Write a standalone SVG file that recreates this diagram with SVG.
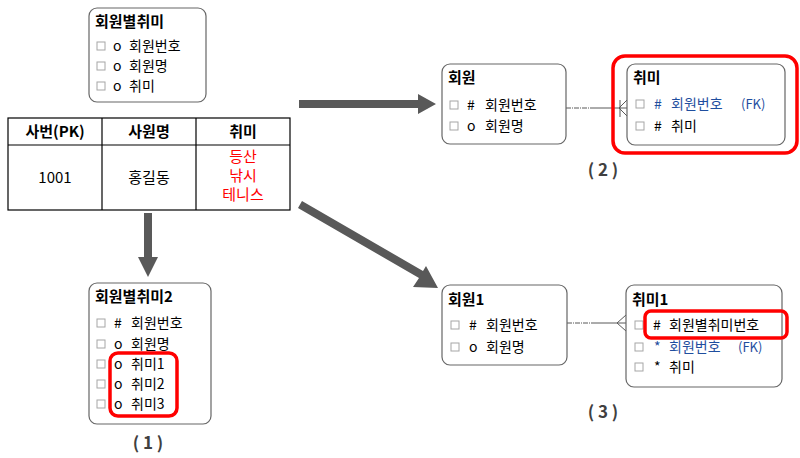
<svg xmlns="http://www.w3.org/2000/svg" width="800" height="458" viewBox="0 0 800 458">
<style>
text{font-family:"Noto Sans CJK KR","Noto Sans",sans-serif;font-size:14px;fill:#000}
.t{font-weight:bold;font-size:15px}
.d{font-size:15px}
.b{fill:#1f4e9e}
.r{fill:#ff0000}
.box{fill:#fff;stroke:#666;stroke-width:1.2}
.cb{fill:#fff;stroke:#a6a6a6;stroke-width:1}
.hl{fill:none;stroke:#ff0000;stroke-width:3.5}
.tb{fill:none;stroke:#000;stroke-width:1.2}
.lbl{font-weight:bold;font-size:17px;fill:#404040}
.arr{fill:#595959}
.ln{stroke:#595959;stroke-width:1;fill:none}
.dd{stroke-dasharray:5,1,1,1}
</style>
<defs>
<rect id="cb" class="cb" x="0" y="-4" width="8" height="8"/>
</defs>

<g id="connectors">
<polygon class="arr" points="144,213 152,213 152,257 158,257 148,277 138,257 144,257"/>
<polygon class="arr" points="299,100 418,100 418,94 436,104 418,114 418,108 299,108"/>
<polygon class="arr" points="302,201 423,271 426,266 438,288 413,287 419,278 298,208"/>
<path class="ln dd" d="M566,108 H594"/>
<path class="ln" d="M594,108 H627 M620,100 V117 M619,108 L627,100 M619,108 L627,116"/>
<path class="ln dd" d="M567,323 H594"/>
<path class="ln" d="M594,323 H626 M617,323 L626,315 M617,323 L626,331"/>
</g>

<g id="table">
<rect class="tb" x="8" y="118" width="282" height="92"/>
<line class="tb" x1="8" y1="145" x2="290" y2="145"/>
<line class="tb" x1="102" y1="118" x2="102" y2="210"/>
<line class="tb" x1="196" y1="118" x2="196" y2="210"/>
<text x="55" y="137" text-anchor="middle" class="t">사번(PK)</text>
<text x="149" y="137" text-anchor="middle" class="t">사원명</text>
<text x="243" y="137" text-anchor="middle" class="t">취미</text>
<text x="55" y="183" text-anchor="middle" class="d">1001</text>
<text x="149" y="183" text-anchor="middle" class="d">홍길동</text>
<text x="243" y="162" text-anchor="middle" class="d r">등산</text>
<text x="243" y="181" text-anchor="middle" class="d r">낚시</text>
<text x="243" y="200" text-anchor="middle" class="d r">테니스</text>
</g>

<g id="n-hobby0">
<rect class="box" x="89" y="8" width="117" height="94" rx="8"/>
<text x="95" y="27" class="t">회원별취미</text>
<use href="#cb" x="97" y="46"/><text x="113" y="51">o</text><text x="129" y="51">회원번호</text>
<use href="#cb" x="97" y="66"/><text x="113" y="71">o</text><text x="129" y="71">회원명</text>
<use href="#cb" x="97" y="86"/><text x="113" y="91">o</text><text x="129" y="91">취미</text>
</g>

<g id="n-hobby2">
<rect class="box" x="89" y="283" width="122" height="141" rx="8"/>
<text x="95" y="302" class="t">회원별취미2</text>
<use href="#cb" x="97" y="323"/><text x="114" y="328">#</text><text x="131" y="328">회원번호</text>
<use href="#cb" x="97" y="344"/><text x="114" y="349">o</text><text x="131" y="349">회원명</text>
<use href="#cb" x="97" y="364"/><text x="114" y="369">o</text><text x="131" y="369">취미1</text>
<use href="#cb" x="97" y="384"/><text x="114" y="389">o</text><text x="131" y="389">취미2</text>
<use href="#cb" x="97" y="404"/><text x="114" y="409">o</text><text x="131" y="409">취미3</text>
<rect class="hl" x="110" y="353" width="67" height="63" rx="8"/>
<text x="148" y="449" text-anchor="middle" class="lbl">( 1 )</text>
</g>

<g id="n-member">
<rect class="box" x="442" y="64" width="124" height="80" rx="8"/>
<text x="448" y="83" class="t">회원</text>
<use href="#cb" x="450" y="105"/><text x="467" y="110">#</text><text x="485" y="110">회원번호</text>
<use href="#cb" x="450" y="126"/><text x="467" y="131">o</text><text x="485" y="131">회원명</text>
</g>

<g id="n-hobby">
<rect class="box" x="627" y="64" width="158" height="81" rx="8"/>
<text x="633" y="83" class="t">취미</text>
<use href="#cb" x="636" y="104"/><text x="654" y="109" class="b">#</text><text x="671" y="109" class="b">회원번호</text><text x="741" y="109" class="b" style="font-size:13px">(FK)</text>
<use href="#cb" x="636" y="126"/><text x="654" y="131">#</text><text x="671" y="131">취미</text>
<rect class="hl" x="613" y="56" width="184" height="97" rx="12"/>
<text x="603" y="176" text-anchor="middle" class="lbl">( 2 )</text>
</g>

<g id="n-member1">
<rect class="box" x="442" y="285" width="125" height="80" rx="8"/>
<text x="448" y="305" class="t">회원1</text>
<use href="#cb" x="451" y="325"/><text x="469" y="330">#</text><text x="486" y="330">회원번호</text>
<use href="#cb" x="451" y="347"/><text x="469" y="352">o</text><text x="486" y="352">회원명</text>
</g>

<g id="n-hobby1">
<rect class="box" x="626" y="285" width="156" height="102" rx="8"/>
<text x="632" y="305" class="t">취미1</text>
<use href="#cb" x="635" y="325"/><text x="653" y="330">#</text><text x="669" y="330">회원별취미번호</text>
<use href="#cb" x="635" y="347"/><text x="654" y="352" class="b">*</text><text x="669" y="352" class="b">회원번호</text><text x="738" y="352" class="b" style="font-size:13px">(FK)</text>
<use href="#cb" x="635" y="367"/><text x="654" y="372">*</text><text x="669" y="372">취미</text>
<rect class="hl" x="645" y="311" width="142" height="27" rx="6"/>
<text x="603" y="418" text-anchor="middle" class="lbl">( 3 )</text>
</g>
</svg>
